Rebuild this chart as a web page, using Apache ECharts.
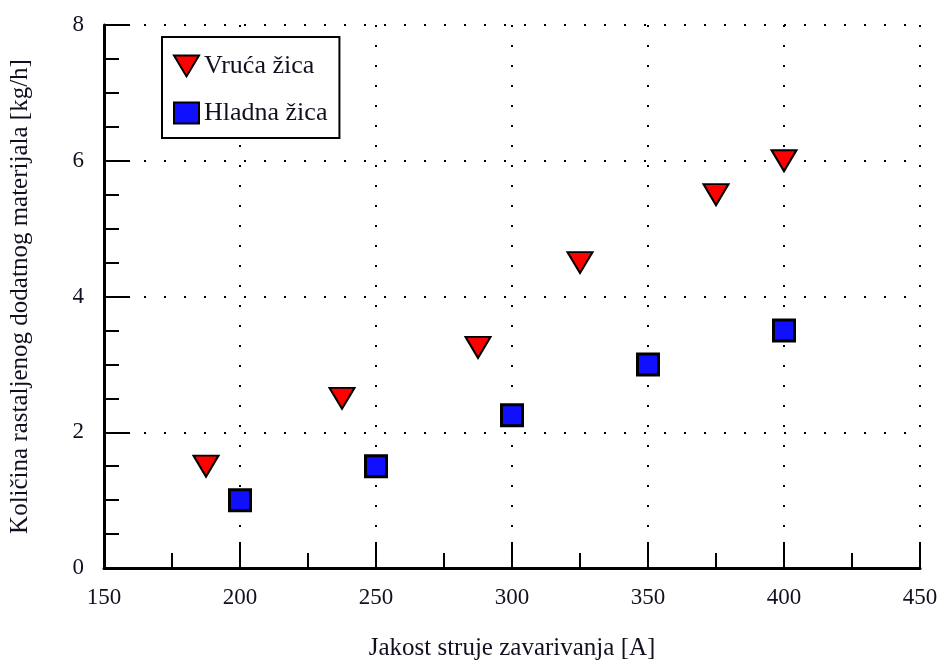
<!DOCTYPE html>
<html>
<head>
<meta charset="utf-8">
<script src="https://cdn.jsdelivr.net/npm/echarts@6/dist/echarts.min.js"></script>
<style>html,body{margin:0;padding:0;background:#fff}#c{width:940px;height:663px}</style>
</head>
<body>
<div id="c"></div>
<script>
const vrucaX = [187.5, 237.5, 287.5, 325, 375, 400];
const vrucaY = [1.5, 2.5, 3.25, 4.5, 5.5, 6.0];
const hladnaX = [200, 250, 300, 350, 400];
const hladnaY = [1.0, 1.5, 2.25, 3.0, 3.5];
const seriesNames = ['Vruća žica', 'Hladna žica'];
const xTitle = 'Jakost struje zavarivanja [A]';
const yTitle = 'Količina rastaljenog dodatnog materijala [kg/h]';

const FONT = '"Liberation Serif", "DejaVu Serif", serif';
const TXT = '#101020';
const chart = echarts.init(document.getElementById('c'));
const triPath = 'path://M0,0 L12,0 L6,10 Z';
chart.setOption({
  animation: false,
  backgroundColor: '#fff',
  grid: { left: 104, right: 20, top: 25, bottom: 95, containLabel: false, outerBoundsMode: 'none' },
  legend: {
    orient: 'vertical',
    left: 162, top: 37,
    padding: [16, 12, 12, 11],
    itemWidth: 25, itemHeight: 21,
    itemGap: 21,
    borderColor: '#000', borderWidth: 2,
    backgroundColor: '#fff',
    textStyle: { fontFamily: FONT, fontSize: 26, color: TXT },
    data: seriesNames
  },
  xAxis: {
    type: 'value', min: 150, max: 450, interval: 50,
    name: xTitle, nameLocation: 'middle', nameGap: 68,
    nameTextStyle: { fontFamily: FONT, fontSize: 25, color: TXT },
    axisLine: { lineStyle: { color: '#000', width: 3 } },
    axisTick: { inside: true, length: 26, lineStyle: { color: '#000', width: 2 } },
    minorTick: { show: true, splitNumber: 2, length: 15, lineStyle: { color: '#000', width: 2 } },
    axisLabel: { margin: 18, fontFamily: FONT, fontSize: 23, color: TXT },
    splitLine: { show: true, lineStyle: { color: '#000', width: 2, type: [2, 18] } }
  },
  yAxis: {
    type: 'value', min: 0, max: 8, interval: 2,
    name: yTitle, nameLocation: 'middle', nameGap: 71,
    nameTextStyle: { fontFamily: FONT, fontSize: 25, color: TXT },
    axisLine: { lineStyle: { color: '#000', width: 3 } },
    axisTick: { inside: true, length: 26, lineStyle: { color: '#000', width: 2 } },
    minorTick: { show: true, splitNumber: 4, length: 15, lineStyle: { color: '#000', width: 2 } },
    axisLabel: { margin: 20, fontFamily: FONT, fontSize: 23, color: TXT },
    splitLine: { show: true, lineStyle: { color: '#000', width: 2, type: [2, 18] } }
  },
  series: [
    {
      name: seriesNames[0], type: 'scatter',
      symbol: triPath, symbolSize: [25, 21],
      itemStyle: { color: '#ff0000', borderColor: '#000', borderWidth: 2, opacity: 1 },
      data: vrucaX.map((x, i) => [x, vrucaY[i]])
    },
    {
      name: seriesNames[1], type: 'scatter',
      symbol: 'rect', symbolSize: 21,
      itemStyle: { color: '#1010ff', borderColor: '#000', borderWidth: 3, opacity: 1 },
      data: hladnaX.map((x, i) => [x, hladnaY[i]])
    }
  ]
});
</script>
</body>
</html>
